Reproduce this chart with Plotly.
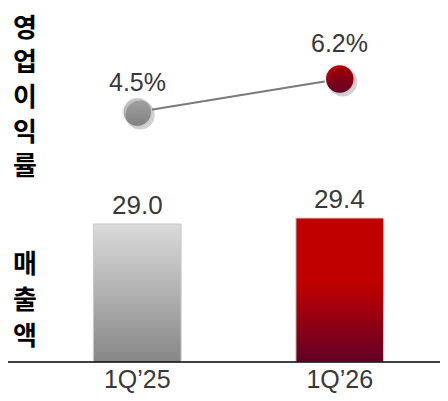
import plotly.graph_objects as go

# ---- data ----
categories = ["1Q\u201925", "1Q\u201926"]
revenue = [29.0, 29.4]
margin = [4.5, 6.2]
revenue_labels = ["29.0", "29.4"]
margin_labels = ["4.5%", "6.2%"]
title_margin = "영업이익률"
title_revenue = "매출액"

# ---- styles ----
FONT = "Liberation Sans, Arial, sans-serif"
KFONT = "Noto Sans CJK KR, sans-serif"
TXT = "#383838"
bar_grad = [
    [[0, "#878787"], [1, "#dadada"]],
    [[0, "#620026"], [0.55, "#c00000"], [1, "#c00000"]],
]
bar_edge = ["#c9c9c9", "#e6c4c4"]
marker_top = ["#c8c8c8", "#c80000"]
marker_bottom = ["#9c9c9c", "#7a0030"]
margin_label_shift = [14, 20]

BAR_W = 0.433
Y_MIN, Y_MAX = 19.8, 43.4
Y2_MIN, Y2_MAX = -8.39, 9.86
PLOT_H = 354.0

fig = go.Figure()
x_idx = list(range(len(categories)))

# bars as gradient-filled polygons built from the data
for i, v in enumerate(revenue):
    xs = [i - BAR_W / 2, i - BAR_W / 2, i + BAR_W / 2, i + BAR_W / 2, i - BAR_W / 2]
    ys = [Y_MIN, v, v, Y_MIN, Y_MIN]
    fig.add_trace(go.Scatter(
        x=xs, y=ys, mode="lines", fill="toself",
        line=dict(color=bar_edge[i], width=1),
        fillgradient=dict(type="vertical", colorscale=bar_grad[i]),
        hoverinfo="skip", showlegend=False,
    ))

# marker shadows (same data on slightly shifted axes)
fig.add_trace(go.Scatter(
    x=x_idx, y=margin, mode="markers",
    marker=dict(size=29, color="rgba(0,0,0,0.18)", line=dict(width=0)),
    xaxis="x2", yaxis="y3", showlegend=False, hoverinfo="skip",
))

# margin line
fig.add_trace(go.Scatter(
    x=x_idx, y=margin, mode="lines+markers",
    line=dict(color="#7a7a7a", width=2),
    marker=dict(size=29, color=marker_top,
                gradient=dict(type="vertical", color=marker_bottom),
                line=dict(color="#f4f4f4", width=1.5)),
    yaxis="y2", showlegend=False, hoverinfo="skip",
))

annotations = []
for i, v in enumerate(revenue):
    annotations.append(dict(
        x=i, y=v, xref="x", yref="y", text=revenue_labels[i], showarrow=False,
        xanchor="center", yanchor="bottom", yshift=2,
        font=dict(family=FONT, size=26, color=TXT)))
for i, v in enumerate(margin):
    annotations.append(dict(
        x=i, y=v, xref="x", yref="y2", text=margin_labels[i], showarrow=False,
        xanchor="center", yanchor="bottom", yshift=margin_label_shift[i],
        font=dict(family=FONT, size=25, color=TXT)))


def vertical_title(text, first_center_px, step_px):
    out = []
    for k, ch in enumerate(text):
        py = first_center_px + k * step_px
        out.append(dict(
            text=ch, xref="paper", yref="paper", x=-0.026, y=1 - py / PLOT_H,
            showarrow=False, xanchor="center", yanchor="middle", borderpad=0,
            font=dict(family=KFONT, size=26, color="#000000", weight="bold")))
    return out


annotations += vertical_title(title_margin, 17.5, 34.5)
annotations += vertical_title(title_revenue, 253, 36)

SH_X = 3 / 203.0
SH_Y = 3 / 19.4

fig.update_layout(
    width=440, height=393,
    margin=dict(l=27.5, r=6.5, t=0, b=39),
    paper_bgcolor="white", plot_bgcolor="white",
    xaxis=dict(range=[-0.5, 1.5], tickvals=x_idx, ticktext=categories,
               showgrid=False, zeroline=False, showline=False, ticks="",
               tickfont=dict(family=FONT, size=25, color=TXT)),
    xaxis2=dict(range=[-0.5 - SH_X, 1.5 - SH_X], overlaying="x", visible=False),
    yaxis=dict(range=[Y_MIN, Y_MAX], visible=False),
    yaxis2=dict(range=[Y2_MIN, Y2_MAX], overlaying="y", visible=False),
    yaxis3=dict(range=[Y2_MIN + SH_Y, Y2_MAX + SH_Y], overlaying="y", visible=False),
    shapes=[dict(type="line", xref="paper", yref="paper",
                 x0=-0.073, x1=1.02, y0=0, y1=0,
                 line=dict(color="#000000", width=1.5))],
    annotations=annotations,
)

fig.write_html("out.html")
